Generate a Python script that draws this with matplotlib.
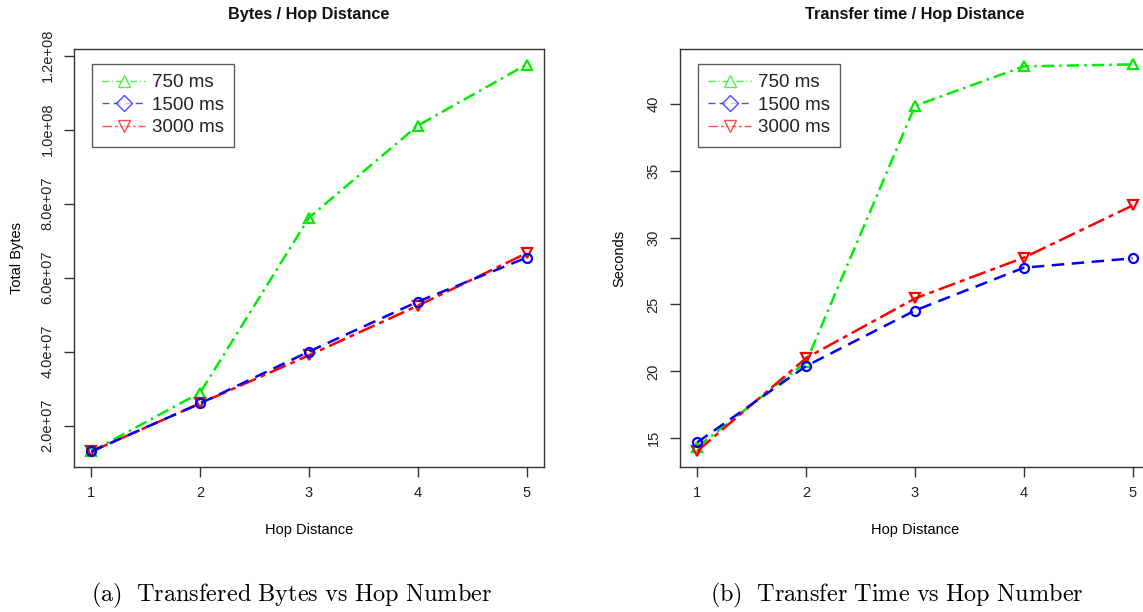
import matplotlib
matplotlib.use("Agg")
import matplotlib.pyplot as plt
from matplotlib.lines import Line2D

hops = [1, 2, 3, 4, 5]
series = ["750 ms", "1500 ms", "3000 ms"]

# transfered bytes per hop distance
bytes_750 = [1.30e7, 2.89e7, 7.62e7, 1.011e8, 1.176e8]
bytes_1500 = [1.30e7, 2.60e7, 4.00e7, 5.35e7, 6.54e7]
bytes_3000 = [1.30e7, 2.60e7, 3.90e7, 5.24e7, 6.66e7]

# transfer time (s) per hop distance
time_750 = [14.35, 20.7, 39.85, 42.8, 42.95]
time_1500 = [14.7, 20.4, 24.55, 27.75, 28.45]
time_3000 = [14.05, 21.0, 25.45, 28.5, 32.4]

bytes_ticks = [2e7, 4e7, 6e7, 8e7, 1e8, 1.2e8]
bytes_ticklabels = ["2.0e+07", "4.0e+07", "6.0e+07", "8.0e+07", "1.0e+08", "1.2e+08"]
time_ticks = [15, 20, 25, 30, 35, 40]

plt.rcParams['font.family'] = ['Liberation Sans', 'DejaVu Sans']
plt.rcParams['mathtext.fontset'] = 'cm'

GREEN = "#00ee00"
BLUE = "#0000ff"
RED = "#ff0000"
BOX = "#333333"

styles = {
    "750 ms": dict(color=GREEN, ls=(0, (5, 2, 1, 2)), plot_marker="^", leg_marker="^"),
    "1500 ms": dict(color=BLUE, ls=(0, (5, 3)), plot_marker="o", leg_marker="D"),
    "3000 ms": dict(color=RED, ls=(0, (7, 2, 2, 2)), plot_marker="v", leg_marker="v"),
}

W, H = 1143, 612
fig = plt.figure(figsize=(W / 100, H / 100), dpi=100)

ax1 = fig.add_axes([74 / W, (H - 467) / H, 470 / W, 418 / H])
ax2 = fig.add_axes([680 / W, (H - 467) / H, 470 / W, 418 / H])


def draw(ax, data, ylim):
    for name in ["750 ms", "3000 ms", "1500 ms"]:
        st = styles[name]
        ax.plot(hops, data[name], color=st["color"], ls=st["ls"], lw=1.8,
                marker=st["plot_marker"], markersize=6.5, mfc="none",
                mec=st["color"], mew=1.6)
    ax.set_xlim(0.84, 5.16)
    ax.set_ylim(*ylim)
    ax.set_xticks(hops)
    for sp in ax.spines.values():
        sp.set_color(BOX)
        sp.set_linewidth(1.0)
    ax.tick_params(direction="out", length=7, width=1, color=BOX,
                   labelsize=10.5, labelcolor="#222222", pad=7)

    handles = []
    for name in series:
        st = styles[name]
        handles.append(Line2D([0], [0], color=st["color"], ls=st["ls"], lw=1.0,
                              alpha=0.7, marker=st["leg_marker"], markersize=8,
                              mfc="white", mec=st["color"], mew=1.0))
    leg = ax.legend(handles, series, loc="upper left",
                    bbox_to_anchor=(0.038, 0.964), borderaxespad=0,
                    fontsize=13.5, frameon=True, fancybox=False,
                    handlelength=2.3, handletextpad=0.35, labelspacing=0.28,
                    borderpad=0.55)
    leg.get_frame().set_edgecolor(BOX)
    leg.get_frame().set_linewidth(1.0)
    for t in leg.get_texts():
        t.set_color("#222222")

    ax.set_xlabel("Hop Distance", fontsize=10.5)
    ax.xaxis.set_label_coords(0.5, -0.15)
    ax.xaxis.label.set_va("center")


draw(ax1, {"750 ms": bytes_750, "1500 ms": bytes_1500, "3000 ms": bytes_3000},
     (8.8e6, 1.218e8))
ax1.set_yticks(bytes_ticks)
ax1.set_yticklabels(bytes_ticklabels, rotation=90, va="center")
ax1.set_ylabel("Total Bytes", fontsize=10.5)
ax1.yaxis.set_label_coords(-0.121, 0.5)
ax1.yaxis.label.set_va("center")

draw(ax2, {"750 ms": time_750, "1500 ms": time_1500, "3000 ms": time_3000},
     (12.85, 44.1))
ax2.set_yticks(time_ticks)
ax2.set_yticklabels([str(t) for t in time_ticks], rotation=90, va="center")
ax2.set_ylabel("Seconds", fontsize=10.5)
ax2.yaxis.set_label_coords(-0.128, 0.5)
ax2.yaxis.label.set_va("center")

fig.text(309 / W, 1 - 14 / H, "Bytes / Hop Distance", ha="center", va="center",
         fontsize=11.7, fontweight="bold", color="#111111")
fig.text(915 / W, 1 - 14 / H, "Transfer time / Hop Distance", ha="center", va="center",
         fontsize=11.7, fontweight="bold", color="#111111")

fig.text(292 / W, 1 - 595 / H, r"$\mathrm{(a)\ \ Transfered\ Bytes\ vs\ Hop\ Number}$",
         ha="center", va="center", fontsize=17.5)
fig.text(897 / W, 1 - 595 / H, r"$\mathrm{(b)\ \ Transfer\ Time\ vs\ Hop\ Number}$",
         ha="center", va="center", fontsize=17.5)

fig.savefig("out.png", dpi=100)
